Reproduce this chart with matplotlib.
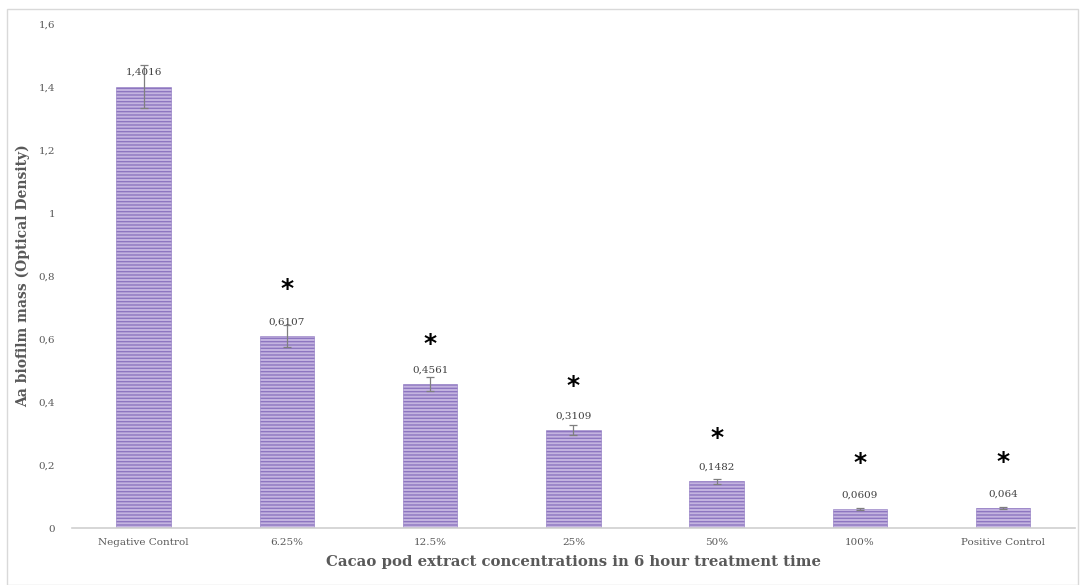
import numpy as np
import matplotlib.pyplot as plt
from matplotlib.patches import Rectangle

# Biofilm mass per treatment group
groups = ["Negative Control", "6.25%", "12.5%", "25%", "50%", "100%", "Positive Control"]
od_mean = [1.4016, 0.6107, 0.4561, 0.3109, 0.1482, 0.0609, 0.064]
od_err = [0.068, 0.035, 0.022, 0.015, 0.008, 0.004, 0.004]
value_labels = ["1,4016", "0,6107", "0,4561", "0,3109", "0,1482", "0,0609", "0,064"]
star_y = [None, 0.76, 0.585, 0.45, 0.285, 0.205, 0.21]
yticks = [0, 0.2, 0.4, 0.6, 0.8, 1.0, 1.2, 1.4, 1.6]
ytick_labels = ["0", "0,2", "0,4", "0,6", "0,8", "1", "1,2", "1,4", "1,6"]

plt.rcParams["font.family"] = ["DejaVu Serif"]
plt.rcParams["hatch.linewidth"] = 1.0

gray = "#595959"

fig = plt.figure(figsize=(10.83, 5.85), dpi=100)
ax = fig.add_axes([0.0665, 0.0974, 0.926, 0.8615])

x = np.arange(len(groups))
ax.bar(x, od_mean, width=0.38, color="#c4b4e0", edgecolor="#8d76c0",
       linewidth=0.4, hatch="-----", zorder=2)
ax.errorbar(x, od_mean, yerr=od_err, fmt="none", ecolor="#7f7f7f",
            elinewidth=0.9, capsize=3, capthick=0.9, zorder=3)

for xi, v, lab in zip(x, od_mean, value_labels):
    ax.text(xi, v + 0.03, lab, ha="center", va="bottom", fontsize=7.5, color="#404040", zorder=4)

# significance markers
for xi, sy in zip(x, star_y):
    if sy is not None:
        ax.text(xi, sy, "*", ha="center", va="center", fontsize=18,
                fontweight="bold", color="black", family="DejaVu Sans")

ax.set_xlim(-0.5, len(groups) - 0.5)
ax.set_ylim(0, 1.6)
ax.set_yticks(yticks)
ax.set_yticklabels(ytick_labels)
ax.set_xticks(x)
ax.set_xticklabels(groups)
ax.tick_params(axis="both", length=0, labelsize=7.5, labelcolor=gray)
ax.tick_params(axis="y", pad=12)
ax.tick_params(axis="x", pad=7)

for side in ["top", "right", "left"]:
    ax.spines[side].set_visible(False)
ax.spines["bottom"].set_color("#d0d0d0")
ax.spines["bottom"].set_linewidth(1.2)

ax.set_ylabel("Aa biofilm mass (Optical Density)", fontsize=10,
              fontweight="bold", color=gray, labelpad=6)
ax.set_xlabel("Cacao pod extract concentrations in 6 hour treatment time",
              fontsize=10.7, fontweight="bold", color=gray, labelpad=6)

# thin frame around the whole chart
fig.patches.append(Rectangle((7 / 1083, 0.0), 1071 / 1083, 576 / 585,
                             transform=fig.transFigure, fill=False,
                             edgecolor="#d9d9d9", linewidth=1))

fig.savefig("out.png", dpi=100)
